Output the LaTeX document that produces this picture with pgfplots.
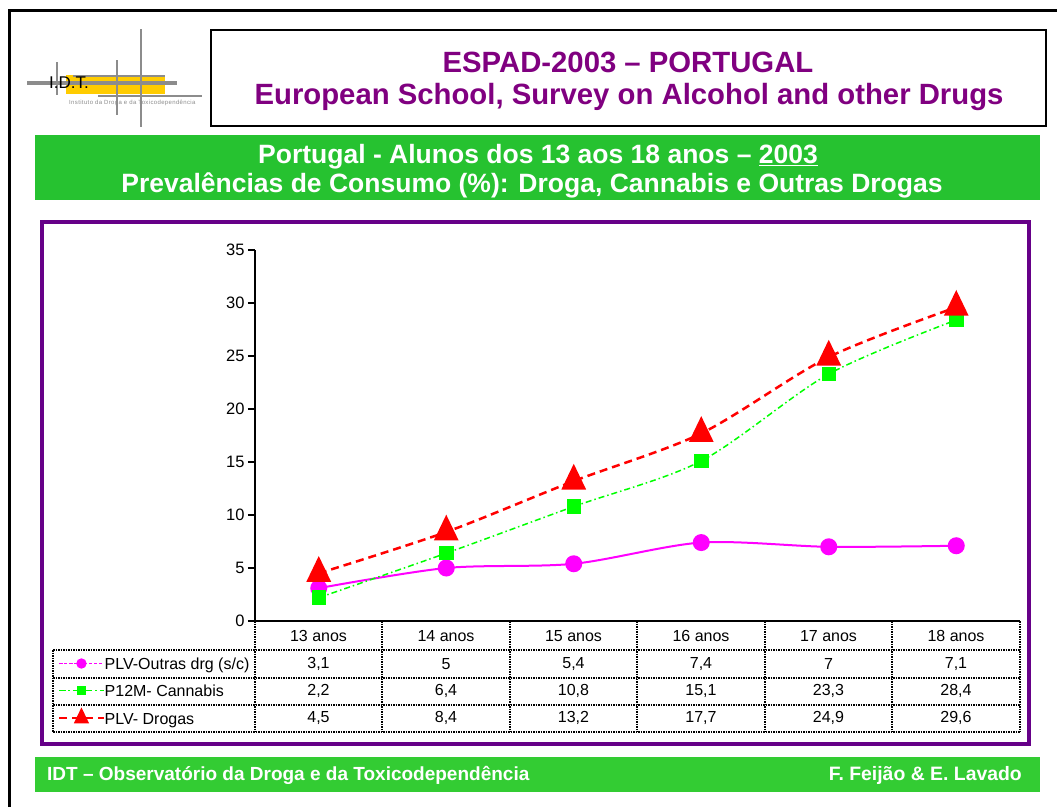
\documentclass[border=0pt]{standalone}
\usepackage{fontspec}
\setmainfont{Liberation Sans}
\usepackage{pgfplots}
\usepackage{pgfplotstable}
\pgfplotsset{compat=1.18}

\definecolor{ttlpurple}{RGB}{128,0,128}
\definecolor{frmpurple}{RGB}{102,0,136}
\definecolor{hdrgreen}{RGB}{38,194,48}
\definecolor{ftrgreen}{RGB}{51,204,51}
\definecolor{logogray}{RGB}{140,140,140}
\definecolor{logoyellow}{RGB}{255,204,0}
\definecolor{plmag}{RGB}{255,0,255}
\definecolor{plgreen}{RGB}{0,255,0}
\definecolor{plred}{RGB}{255,0,0}

% prevalences (%) by age, 13 to 18 anos
\pgfplotstableread{
x   outras cannabis drogas
0.5 3.1    2.2      4.5
1.5 5.0    6.4      8.4
2.5 5.4    10.8     13.2
3.5 7.4    15.1     17.7
4.5 7.0    23.3     24.9
5.5 7.1    28.4     29.6
}\prevtable

\begin{document}
\begin{tikzpicture}
\path[use as bounding box] (0,0) rectangle (1057pt,-807pt);
\begin{scope}[x=1pt,y=-1pt]
  % slide frame
  \draw[line width=3pt] (9,807) -- (9,10) -- (1057,10);
  % logo
  \fill[logoyellow] (66,75) rectangle (165,94);
  \draw[logogray,line width=2pt] (73,76) -- (165,76);
  \draw[logogray,line width=4pt] (27,83) -- (177,83);
  \draw[logogray,line width=2pt] (98,96) -- (202,96);
  \draw[logogray,line width=2pt] (57,62) -- (57,95);
  \draw[logogray,line width=2pt] (117,60) -- (117,115);
  \draw[logogray,line width=2pt] (141,29) -- (141,127);
  \node[anchor=west,inner sep=0pt,font=\fontsize{17}{17}\selectfont] at (49,83) {I.D.T.};
  \node[anchor=west,inner sep=0pt,text=logogray,font=\fontsize{6}{6}\selectfont\addfontfeatures{LetterSpace=6}] at (69,103) {Instituto da Droga e da Toxicodependência};
  % title box
  \draw[line width=2pt] (211,30) rectangle (1046,126);
  \node[text=ttlpurple,font=\bfseries\fontsize{29.3}{29.3}\selectfont] at (628,62) {ESPAD-2003 – PORTUGAL};
  \node[text=ttlpurple,font=\bfseries\fontsize{29.3}{29.3}\selectfont] at (629,97) {European School, Survey on Alcohol and other Drugs};
  % green heading
  \fill[hdrgreen] (35,135) rectangle (1040,200);
  \node[text=white,font=\bfseries\fontsize{26.5}{26.5}\selectfont] at (538,157) {Portugal - Alunos dos 13 aos 18 anos – \underline{2003}};
  \node[text=white,font=\bfseries\fontsize{26.5}{26.5}\selectfont] at (532,185) {Prevalências de Consumo (\%): Droga, Cannabis e Outras Drogas};
  % chart frame
  \draw[frmpurple,line width=4pt] (42,222) rectangle (1029,744);
  % footer
  \fill[ftrgreen] (35,757) rectangle (1040,792);
  \node[anchor=west,inner sep=0pt,text=white,font=\bfseries\fontsize{19}{19}\selectfont] at (47,775) {IDT – Observatório da Droga e da Toxicodependência};
  \node[anchor=east,inner sep=0pt,text=white,font=\bfseries\fontsize{19.4}{19.4}\selectfont] at (1022,775) {F. Feijão \& E. Lavado};
\end{scope}

\begin{axis}[
    at={(255pt,-621pt)}, anchor=south west,
    scale only axis, width=765pt, height=371pt,
    xmin=0, xmax=6, ymin=0, ymax=35,
    ytick={0,5,...,35}, xtick=\empty,
    axis x line=bottom, axis y line=left,
    axis line style={-,line width=1.5pt},
    tick align=outside, major tick length=7pt,
    y tick style={line width=1.5pt,black},
    yticklabel style={font=\fontsize{16.5}{16.5}\selectfont},
    /pgf/number format/assume math mode=true,
    clip=false,
    legend cell align=left,
    legend style={at={(-0.2575,-0.078)}, anchor=north west, draw=none, fill=none,
      inner sep=0pt, row sep=0pt, column sep=0pt,
      nodes={inner sep=0pt, text height=19.4pt, text depth=7.9pt},
      font=\fontsize{16}{16}\selectfont},
    legend image code/.code={\draw[mark repeat=2,mark phase=2,yshift=0.3pt] plot coordinates {(0pt,0pt)(22pt,0pt)(44pt,0pt)};},
]
\addplot[plmag, line width=2pt, smooth, tension=0.5, mark=*, mark size=7.5pt,
  mark options={solid,fill=plmag,draw=plmag},
  legend image post style={mark size=4.5pt,line width=1.3pt,dash pattern=on 3pt off 2pt}]
  table[x=x,y=outras] {\prevtable};
\addlegendentry{PLV-Outras drg (s/c)}
\addplot[plgreen, line width=1.5pt, smooth, tension=0.5,
  dash pattern=on 6pt off 3pt on 1.5pt off 3pt,
  mark=square*, mark size=6.5pt, mark options={solid,fill=plgreen,draw=plgreen},
  legend image post style={mark size=4pt,line width=1pt}]
  table[x=x,y=cannabis] {\prevtable};
\addlegendentry{P12M- Cannabis}
\addplot[plred, line width=2.5pt, smooth, tension=0.5,
  dash pattern=on 8pt off 5pt,
  mark=triangle*, mark size=12pt, mark options={solid,fill=plred,draw=plred,yscale=1.2},
  legend image post style={mark size=6.5pt}]
  table[x=x,y=drogas] {\prevtable};
\addlegendentry{PLV- Drogas}
\end{axis}

\begin{scope}[x=1pt,y=-1pt,
    tbl/.style={line width=1.3pt,dash pattern=on 1.5pt off 1pt},
    font=\fontsize{16}{16}\selectfont]
  % data table grid
  \foreach \yy in {650,678,705,732} {\draw[tbl] (53,\yy) -- (1020,\yy);}
  \draw[tbl] (53,650) -- (53,732);
  \foreach \xx in {255,382,510,637,765,892,1020} {\draw[tbl] (\xx,621) -- (\xx,732);}
  % header and cell values
  \foreach \xx/\lab/\a/\b/\c in {318.5/13 anos/{3,1}/{2,2}/{4,5}, 446/14 anos/5/{6,4}/{8,4},
      573.5/15 anos/{5,4}/{10,8}/{13,2}, 701/16 anos/{7,4}/{15,1}/{17,7},
      828.5/17 anos/7/{23,3}/{24,9}, 956/18 anos/{7,1}/{28,4}/{29,6}} {
    \node at (\xx,636) {\lab};
    \node at (\xx,664) {\a};
    \node at (\xx,691) {\b};
    \node at (\xx,718) {\c};
  }
\end{scope}
\end{tikzpicture}
\end{document}
